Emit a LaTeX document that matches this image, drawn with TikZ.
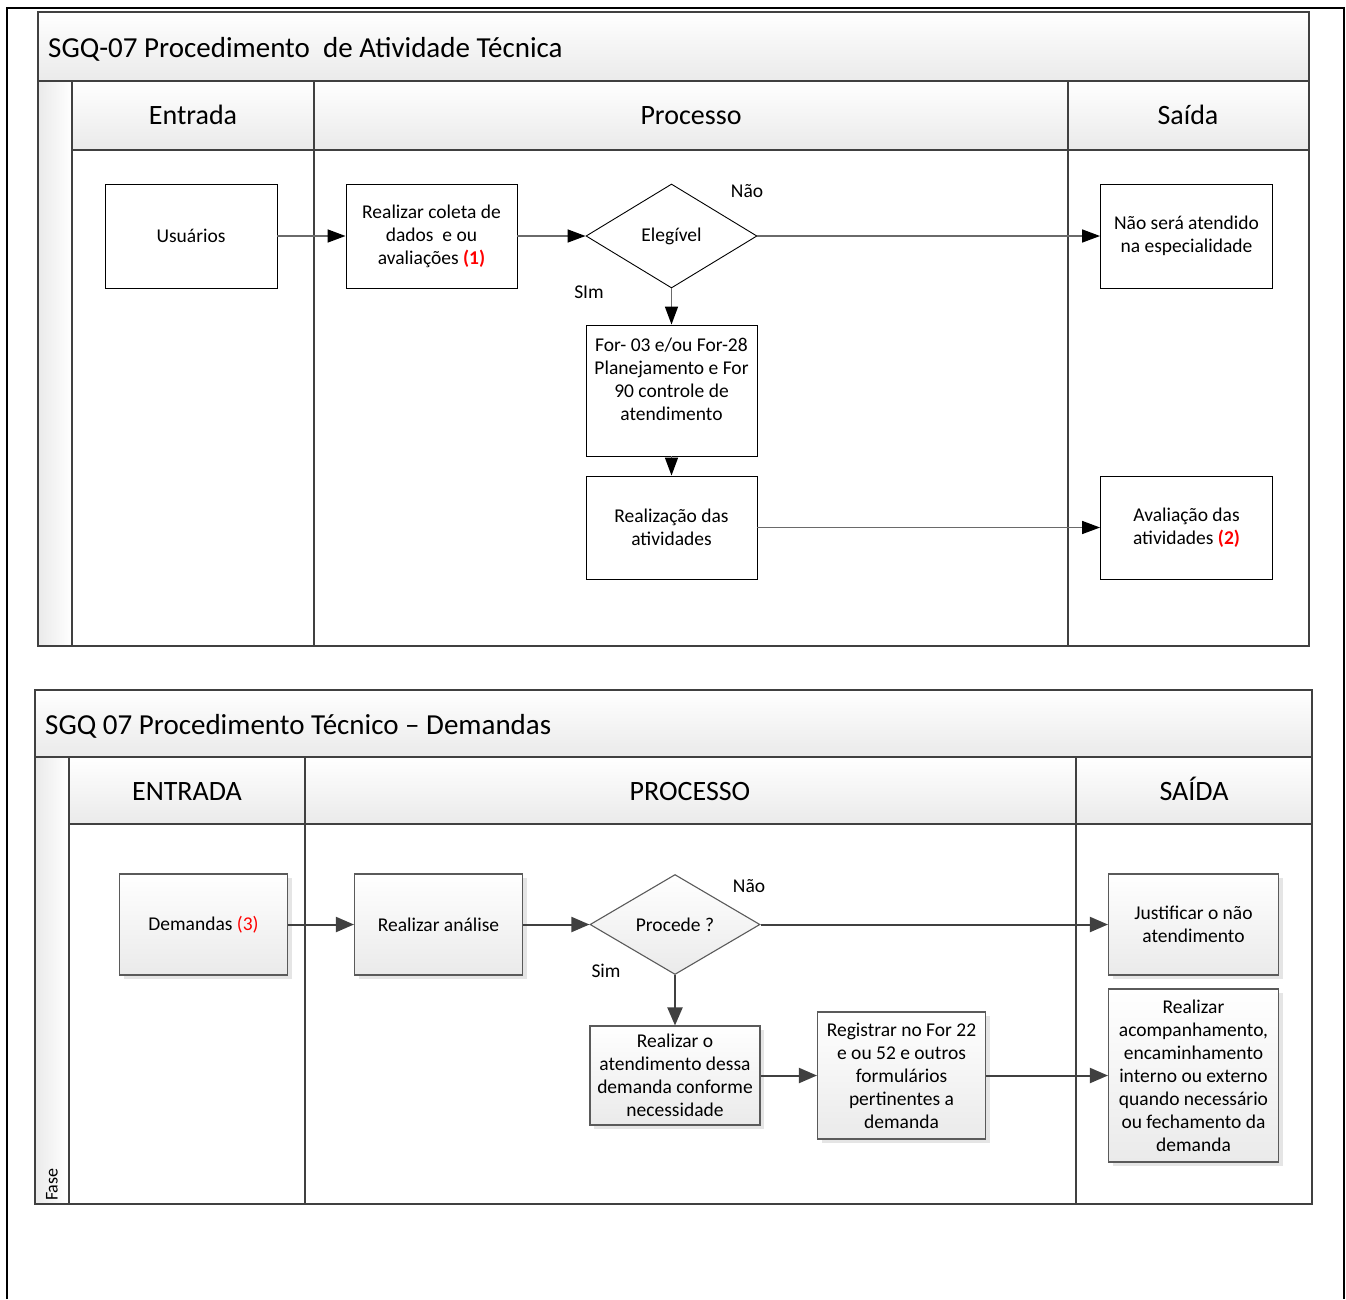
\documentclass[tikz,border=0pt]{standalone}
\usepackage{fontspec}
\setmainfont{Carlito}
\usetikzlibrary{positioning,shapes.geometric,arrows.meta,shadows}
\definecolor{PoolLine}{HTML}{404040}
\definecolor{PoolShade}{HTML}{EAEAEA}
\definecolor{BoxLine}{HTML}{5A5A5A}
\definecolor{FlowGray}{HTML}{6A6A6A}
\definecolor{MarkRed}{HTML}{FF0000}

\begin{document}
\begin{tikzpicture}[x=1pt,y=-1pt,
  txt/.style={font=\fontsize{19.5}{23}\selectfont,align=center,inner sep=0pt},
  plainbox/.style={txt,draw=black,line width=0.9pt,fill=white,minimum width=172pt,minimum height=104pt},
  plaindec/.style={txt,diamond,draw=black,line width=0.9pt,fill=white,minimum width=171pt,minimum height=104pt},
  shadebox/.style={txt,draw=BoxLine,line width=1.1pt,top color=white,bottom color=PoolShade,
    drop shadow={shadow xshift=4pt,shadow yshift=-4pt,fill=black!10,opacity=1},
    minimum width=168pt,minimum height=101pt},
  shadedec/.style={txt,diamond,draw=BoxLine,line width=1.1pt,top color=white,bottom color=PoolShade,
    minimum width=170pt,minimum height=100pt},
  topflow/.style={draw=FlowGray,line width=1.5pt,-{Triangle[length=18pt,width=13pt,color=black]}},
  botflow/.style={draw=PoolLine,line width=2pt,-{Triangle[length=18pt,width=15pt]}},
  lane/.style={draw=PoolLine,line width=1.8pt},
  barshade/.style={top color=white,bottom color=PoolShade,draw=none},
  stripshade/.style={left color=PoolShade,right color=white,draw=none},
  pooltitle/.style={font=\fontsize{29}{33}\selectfont,anchor=west,inner sep=0pt,text height=20pt,text depth=6pt},
  lanehead/.style={font=\fontsize{28}{32}\selectfont,inner sep=0pt,text height=20pt,text depth=6pt},
  flag/.style={font=\fontsize{19.5}{23}\selectfont,inner sep=0pt}
]
\useasboundingbox (0,0) rectangle (1346,1299);
% page frame
\draw[line width=2.2pt,black] (7,1299) -- (7,8) -- (1344,8) -- (1344,1299);

% ---- pool 1: atividade tecnica
\fill[barshade] (38,12) rectangle (1309,81);
\fill[barshade] (72,81) rectangle (1309,150);
\fill[stripshade] (38,81) rectangle (72,646);
\draw[lane] (38,12) rectangle (1309,646);
\draw[lane] (38,81) -- (1309,81);
\draw[lane] (72,150) -- (1309,150);
\draw[lane] (72,81) -- (72,646);
\draw[lane] (314,81) -- (314,646);
\draw[lane] (1068,81) -- (1068,646);
\node[pooltitle] (title1) at (48,50) {SGQ-07 Procedimento~ de Atividade Técnica};
\node[lanehead] (in1) at (193,117) {Entrada};
\node[lanehead] (proc1) at (691,117) {Processo};
\node[lanehead] (out1) at (1188,117) {Saída};

\node[plainbox] (users) at (191,236) {Usuários};
\node[plainbox,minimum width=171pt] (collect) at (431.5,236)
  {Realizar coleta de\\dados~ e ou\\avaliações \textcolor{MarkRed}{\textbf{(1)}}};
\node[plaindec] (eligible) at (671.5,236) {Elegível};
\node[plainbox] (refused) at (1186.5,236) {Não será atendido\\na especialidade};
\node[plainbox,minimum width=171pt,minimum height=131pt] (forms) at (671.5,390.5)
  {For- 03 e/ou For-28\\Planejamento e For\\90 controle de\\atendimento\\ };
\node[plainbox,minimum width=171pt,minimum height=103pt] (doing) at (671.5,527.5)
  {Realização das\\atividades};
\node[plainbox,minimum height=103pt] (review) at (1186.5,527.5)
  {Avaliação das\\atividades \textcolor{MarkRed}{\textbf{(2)}}};
\node[flag] (no1) at (747,191) {Não};
\node[flag] (yes1) at (589,292) {SIm};

\draw[topflow] (users) -- (collect);
\draw[topflow] (collect) -- (eligible);
\draw[topflow] (eligible) -- (refused);
\draw[topflow] (eligible) -- (forms);
\draw[topflow] (forms) -- (doing);
\draw[topflow] (doing) -- (review);

% ---- pool 2: demandas
\fill[barshade] (35,690) rectangle (1312,757);
\fill[barshade] (69,757) rectangle (1312,824);
\fill[stripshade] (35,757) rectangle (69,1204);
\draw[lane] (35,690) rectangle (1312,1204);
\draw[lane] (35,757) -- (1312,757);
\draw[lane] (69,824) -- (1312,824);
\draw[lane] (69,757) -- (69,1204);
\draw[lane] (305,757) -- (305,1204);
\draw[lane] (1076,757) -- (1076,1204);
\node[pooltitle] (title2) at (45,727) {SGQ 07 Procedimento Técnico – Demandas};
\node[lanehead] (in2) at (187,793) {ENTRADA};
\node[lanehead] (proc2) at (690,793) {PROCESSO};
\node[lanehead] (out2) at (1194,793) {SAÍDA};
\node[flag,font=\fontsize{18}{22}\selectfont,rotate=90,anchor=west] (phase) at (52,1201) {Fase};

\node[shadebox] (demands) at (203.5,924.5) {Demandas \textcolor{MarkRed}{(3)}};
\node[shadebox] (analysis) at (438.5,924.5) {Realizar análise};
\node[shadedec] (proceeds) at (675,924.5) {Procede ?};
\node[shadebox,minimum width=170pt] (justify) at (1193.5,924.5) {Justificar o não\\atendimento};
\node[shadebox,minimum width=170pt,minimum height=99pt] (serve) at (675,1075.5)
  {Realizar o\\atendimento dessa\\demanda conforme\\necessidade};
\node[shadebox,minimum height=127pt] (record) at (901.5,1075.5)
  {Registrar no For 22\\e ou 52 e outros\\formulários\\pertinentes a\\demanda};
\node[shadebox,minimum width=170pt,minimum height=173pt] (follow) at (1193.5,1075.5)
  {Realizar\\acompanhamento,\\encaminhamento\\interno ou externo\\quando necessário\\ou fechamento da\\demanda};
\node[flag] (no2) at (749,886) {Não};
\node[flag] (yes2) at (606,971) {Sim};

\draw[botflow] (demands) -- (analysis);
\draw[botflow] (analysis) -- (proceeds);
\draw[botflow] (proceeds) -- (justify);
\draw[botflow] (proceeds) -- (serve);
\draw[botflow] (serve) -- (record);
\draw[botflow] (record) -- (follow);
\end{tikzpicture}
\end{document}
